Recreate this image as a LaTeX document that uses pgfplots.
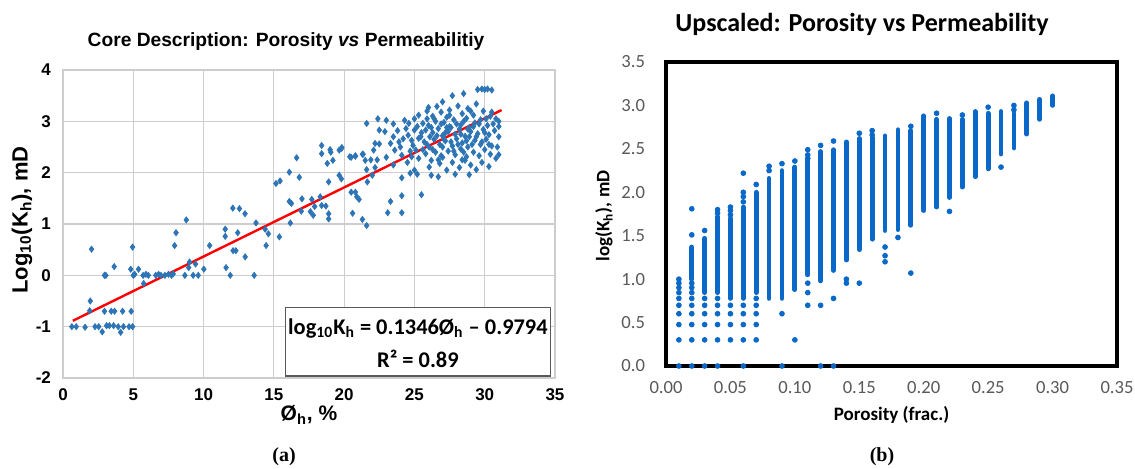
\documentclass[border=0pt]{standalone}
\usepackage{fontspec}
\setmainfont{Liberation Sans}
\newfontfamily\calibri{Carlito}
\newfontfamily\timesfont{Liberation Serif}
\usepackage{pgfplots}
\usepackage{pgfplotstable}
\pgfplotsset{compat=1.18}
\definecolor{lblue}{RGB}{46,117,182}
\definecolor{rblue}{RGB}{10,104,200}
\definecolor{tgray}{RGB}{89,89,89}
\definecolor{ggray}{RGB}{205,205,205}

\pgfplotstableread{
x y
0.63 -1.00
0.94 -1.00
1.57 -1.01
2.28 -1.00
2.54 -1.00
2.79 -1.10
3.10 -0.98
3.30 -0.98
3.60 -0.98
3.93 -1.00
4.10 -1.11
4.30 -1.00
4.70 -1.00
4.95 -1.00
1.90 -0.69
2.95 -0.70
3.43 -0.70
3.67 -0.70
4.24 -0.70
4.85 -0.70
1.94 -0.50
2.03 0.51
4.95 0.55
3.64 0.17
2.95 0.00
3.05 0.00
4.82 0.12
5.37 0.12
5.00 0.00
5.10 0.02
5.74 -0.16
5.70 0.00
5.90 0.02
6.07 0.00
6.60 0.00
6.80 0.02
6.97 0.00
7.25 0.00
7.50 0.02
7.72 0.00
7.84 0.03
8.67 0.00
9.26 0.00
9.62 0.00
8.77 1.08
8.04 0.83
7.94 0.58
10.43 0.58
11.54 0.90
11.54 0.76
9.00 0.26
9.43 0.22
8.94 0.15
10.02 0.12
11.60 0.15
11.90 0.00
12.43 0.83
12.08 1.31
12.55 1.30
12.95 1.20
13.73 1.02
14.38 0.90
14.61 0.81
14.45 0.58
15.39 0.75
12.10 0.48
12.30 0.48
12.96 0.36
13.60 0.00
15.15 1.79
15.44 1.84
16.10 2.01
16.62 2.29
16.81 1.91
16.10 1.44
16.25 1.40
17.00 1.49
16.95 1.25
16.17 1.02
17.70 1.48
17.90 1.34
18.30 1.53
18.40 1.36
17.60 1.24
17.80 1.17
18.70 1.35
18.90 1.20
18.90 1.10
18.90 1.82
18.40 2.53
18.40 2.37
19.00 2.45
19.05 2.40
19.20 2.24
18.80 2.18
19.84 2.49
19.65 2.44
19.65 1.95
19.80 1.88
20.40 2.31
20.80 2.33
21.30 2.36
21.50 2.24
21.60 2.06
20.50 1.62
20.80 1.62
20.90 1.53
21.06 1.48
20.60 1.21
21.30 1.09
21.60 0.97
23.10 1.22
23.30 1.44
24.10 1.55
24.10 1.22
25.50 1.57
24.10 1.90
24.70 1.99
25.20 1.97
26.20 1.95
26.70 1.92
28.90 1.96
21.65 1.82
22.00 1.95
22.20 2.10
21.60 2.96
22.40 3.05
22.50 2.83
27.70 3.50
28.50 3.54
26.00 3.27
26.60 3.29
29.50 3.62
29.80 3.63
30.00 3.62
30.20 3.63
30.50 3.61
25.30 3.12
27.00 3.38
27.50 3.22
28.10 3.30
28.80 3.25
29.40 3.34
29.90 3.20
26.90 3.18
25.90 3.20
28.40 3.15
30.50 3.18
24.30 3.02
26.30 3.10
27.30 3.08
29.20 3.12
30.80 3.05
23.50 2.95
24.60 2.96
25.60 2.96
26.50 3.00
27.10 2.98
27.80 3.03
28.30 2.93
28.70 3.06
29.30 2.97
29.70 3.03
30.20 2.92
31.00 3.00
26.00 2.92
27.50 2.90
28.90 2.88
25.00 3.05
23.00 3.02
23.50 2.70
24.40 2.86
24.55 2.73
25.00 2.83
25.45 2.70
25.80 2.83
26.30 2.78
26.70 2.86
27.00 2.72
27.40 2.80
27.90 2.75
28.20 2.85
28.60 2.71
29.00 2.80
29.50 2.76
29.90 2.84
30.30 2.74
30.70 2.82
31.00 2.90
26.10 2.70
27.60 2.88
28.90 2.70
22.90 2.80
22.20 2.57
22.50 2.56
23.30 2.57
23.90 2.60
24.00 2.50
24.80 2.63
24.90 2.53
25.70 2.60
26.05 2.50
26.40 2.65
26.80 2.55
27.20 2.62
27.70 2.52
28.00 2.66
28.40 2.58
28.80 2.50
29.30 2.63
29.70 2.55
30.10 2.65
30.50 2.52
31.00 2.70
25.30 2.67
27.00 2.50
22.10 2.44
23.00 2.30
23.60 2.44
24.10 2.34
24.80 2.31
25.10 2.44
25.80 2.37
26.30 2.45
26.90 2.33
27.40 2.42
27.90 2.35
28.30 2.46
28.70 2.31
29.20 2.40
29.60 2.33
30.00 2.45
30.40 2.36
30.90 2.50
31.00 2.35
19.80 2.47
20.50 2.30
20.80 2.32
21.35 2.36
21.90 2.25
22.35 2.25
25.30 2.28
26.20 2.24
26.05 2.11
26.80 2.18
27.30 2.05
27.70 2.20
28.20 2.10
28.60 2.24
29.00 2.15
29.40 2.06
29.80 2.20
30.30 2.12
30.80 2.28
24.50 2.20
23.50 2.15
25.00 2.05
27.90 1.97
25.20 2.90
25.50 2.78
25.90 2.55
26.20 2.88
26.50 2.40
26.60 2.72
26.90 2.95
27.10 2.65
27.30 2.88
27.60 2.60
27.80 2.42
28.00 2.95
28.10 2.55
28.30 2.75
28.50 3.00
28.50 2.40
28.80 2.85
29.10 2.55
29.20 2.90
29.40 2.70
29.60 2.95
29.80 2.60
30.00 2.78
30.10 3.05
30.30 2.55
30.60 2.95
26.40 3.05
27.00 2.30
27.50 3.12
28.70 2.62
25.60 2.45
24.20 2.66
24.70 2.42
23.80 2.82
29.00 3.20
30.40 3.10
26.70 2.25
28.40 2.25
25.90 3.05
27.20 2.78
}\coredata

\pgfplotstableread{
x y
0.01 0
0.01 0.301
0.01 0.477
0.01 0.602
0.01 0.699
0.01 0.778
0.01 0.845
0.01 0.903
0.01 0.954
0.01 1.000
0.02 0
0.02 0.301
0.02 0.477
0.02 0.602
0.02 0.699
0.02 0.778
0.02 0.845
0.02 0.903
0.02 0.954
0.02 1.51
0.02 1.81
0.03 0
0.03 0.301
0.03 0.477
0.03 0.602
0.03 0.699
0.03 0.778
0.03 1.56
0.04 0
0.04 0.301
0.04 0.477
0.04 0.602
0.04 0.699
0.04 0.778
0.04 1.76
0.04 1.80
0.05 0.301
0.05 0.477
0.05 0.602
0.05 0.699
0.05 1.74
0.05 1.79
0.05 1.83
0.06 0
0.06 0.301
0.06 0.477
0.06 0.602
0.06 0.699
0.06 1.89
0.06 1.95
0.06 2.00
0.06 2.22
0.07 0.301
0.07 0.477
0.07 0.602
0.07 0.699
0.07 0.778
0.07 2.09
0.08 2.25
0.08 2.30
0.09 0
0.09 0.602
0.09 2.33
0.10 0.301
0.10 2.36
0.11 0.699
0.11 0.845
0.11 0.954
0.11 2.39
0.11 2.43
0.11 2.49
0.12 0
0.12 0.699
0.12 2.54
0.13 0
0.13 0.778
0.13 2.59
0.14 0.954
0.14 1.000
0.15 0.954
0.15 2.68
0.16 2.66
0.16 2.71
0.17 1.20
0.17 1.27
0.17 1.37
0.18 1.48
0.19 1.07
0.19 2.76
0.21 2.91
0.22 1.78
0.23 2.89
0.25 2.98
0.26 2.29
0.27 2.95
0.27 3.00
}\updots

\pgfplotstableread{
x y
0.02 1.00
0.02 1.37
nan nan
0.03 0.845
0.03 1.47
nan nan
0.04 0.845
0.04 1.72
nan nan
0.05 0.778
0.05 1.70
nan nan
0.06 0.778
0.06 1.83
nan nan
0.07 0.845
0.07 2.00
nan nan
0.08 0.778
0.08 2.16
nan nan
0.09 0.778
0.09 2.25
nan nan
0.10 0.88
0.10 2.29
nan nan
0.11 1.05
0.11 2.37
nan nan
0.12 0.98
0.12 2.47
nan nan
0.13 1.10
0.13 2.49
nan nan
0.14 1.22
0.14 2.58
nan nan
0.15 1.34
0.15 2.62
nan nan
0.16 1.46
0.16 2.63
nan nan
0.17 1.56
0.17 2.65
nan nan
0.18 1.57
0.18 2.72
nan nan
0.19 1.62
0.19 2.71
nan nan
0.20 1.79
0.20 2.88
nan nan
0.21 1.83
0.21 2.84
nan nan
0.22 1.94
0.22 2.85
nan nan
0.23 2.06
0.23 2.84
nan nan
0.24 2.18
0.24 2.93
nan nan
0.25 2.27
0.25 2.91
nan nan
0.26 2.44
0.26 2.93
nan nan
0.27 2.51
0.27 2.91
nan nan
0.28 2.67
0.28 3.03
nan nan
0.29 2.84
0.29 3.07
nan nan
0.30 3.00
0.30 3.11
}\upsegs

\begin{document}
\begin{tikzpicture}
\useasboundingbox (0pt,0pt) rectangle (567.5pt,234pt);
% ---------- left panel ----------
\begin{axis}[
  at={(31.5pt,45pt)}, anchor=south west, scale only axis,
  width=246pt, height=154pt,
  xmin=0, xmax=35, ymin=-2, ymax=4,
  xtick={0,5,10,15,20,25,30,35},
  xticklabels={0,5,10,15,20,25,30,35},
  ytick={-2,-1,0,1,2,3,4},
  yticklabels={-2,-1,0,1,2,3,4},
  grid=major,
  major grid style={draw=ggray, line width=0.6pt},
  axis line style={draw=ggray, line width=0.6pt},
  major tick length=0pt,
  tick label style={font=\bfseries\fontsize{8.5}{10}\selectfont},
  xticklabel style={yshift=-2pt},
  yticklabel style={xshift=-2.5pt},
]
\addplot[only marks, mark=diamond*, mark size=1.5pt, color=lblue, mark options={draw=none, fill=lblue}] table {\coredata};
\addplot[red, line width=1.2pt, no markers] coordinates {(0.7,-0.885) (31.2,3.220)};
\draw[draw=gray!70!black, fill=white, line width=0.6pt] (axis cs:15.8,-0.62) rectangle (axis cs:34.7,-1.96);
\node[font=\calibri\bfseries\fontsize{11.2}{13}\selectfont] at (axis cs:25.25,-1.03) {log\textsubscript{10}K\textsubscript{h} = 0.1346Ø\textsubscript{h} – 0.9794};
\node[font=\calibri\bfseries\fontsize{11.2}{13}\selectfont] at (axis cs:25.25,-1.62) {R² = 0.89};
\end{axis}
% ---------- right panel ----------
\begin{axis}[
  at={(333pt,51pt)}, anchor=south west, scale only axis,
  width=225.5pt, height=152pt,
  xmin=0, xmax=0.35, ymin=0, ymax=3.5,
  xtick={0,0.05,0.1,0.15,0.2,0.25,0.3,0.35},
  xticklabels={0.00,0.05,0.10,0.15,0.20,0.25,0.30,0.35},
  ytick={0,0.5,1,1.5,2,2.5,3,3.5},
  yticklabels={0.0,0.5,1.0,1.5,2.0,2.5,3.0,3.5},
  axis line style={draw=black, line width=1.7pt},
  major tick length=0pt,
  clip=false,
  tick label style={font=\calibri\fontsize{9.3}{11}\selectfont, text=tgray},
  xticklabel style={yshift=-4pt},
  yticklabel style={xshift=-7pt},
]
\addplot[draw=rblue, line width=2.4pt, line cap=round, no markers, unbounded coords=jump] table {\upsegs};
\addplot[only marks, mark=*, mark size=1.2pt, color=rblue, mark options={draw=none, fill=rblue}] table {\updots};
\end{axis}
% ---------- labels ----------
\node[font=\bfseries\fontsize{9.6}{11}\selectfont] at (143pt,213pt) {Core Description: Porosity \textit{vs} Permeabilitiy};
\node[font=\bfseries\fontsize{11}{13}\selectfont, rotate=90] at (11pt,124pt) {Log\textsubscript{10}(K\textsubscript{h}), mD};
\node[font=\bfseries\fontsize{10.5}{12}\selectfont] at (154.5pt,26.5pt) {Ø\textsubscript{h}, \%};
\node[font=\timesfont\bfseries\fontsize{10}{12}\selectfont] at (142pt,5.5pt) {(a)};
\node[font=\calibri\bfseries\fontsize{13}{16}\selectfont] at (431pt,222pt) {Upscaled: Porosity vs Permeability};
\node[font=\calibri\bfseries\fontsize{9.5}{11}\selectfont, rotate=90] at (302pt,126pt) {log(K\textsubscript{h}), mD};
\node[font=\calibri\bfseries\fontsize{9.5}{11}\selectfont] at (445.75pt,26.5pt) {Porosity (frac.)};
\node[font=\timesfont\bfseries\fontsize{10}{12}\selectfont] at (441pt,5.5pt) {(b)};
\end{tikzpicture}
\end{document}
